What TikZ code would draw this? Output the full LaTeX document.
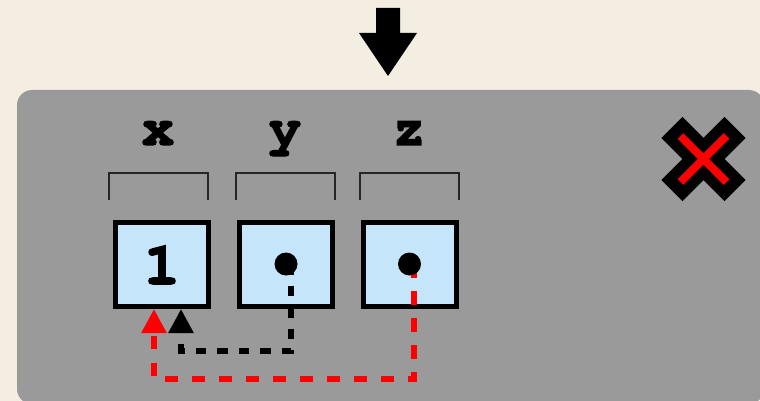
\documentclass[tikz,border=0pt]{standalone}
\usepackage{fontspec}
\newfontfamily\monob[RawFeature={embolden=2.5}]{texgyrecursor-bold.otf}
\usetikzlibrary{arrows.meta,calc}
\definecolor{bgbeige}{RGB}{243,237,226}
\definecolor{panelgray}{RGB}{154,154,154}
\definecolor{cellblue}{RGB}{197,229,251}
\begin{document}
\begin{tikzpicture}[x=1pt,y=-1pt,
  cell/.style={draw=black,line width=5pt,fill=cellblue,minimum width=93pt,minimum height=84pt,inner sep=0pt,outer sep=2.5pt},
  varlabel/.style={font=\monob\fontsize{54}{54}\selectfont,inner sep=0pt,anchor=base},
  valuelabel/.style={font=\monob\fontsize{60}{60}\selectfont,inner sep=0pt,anchor=base},
  bracket/.style={draw=black!85,line width=1.2pt},
  dotnode/.style={circle,fill=black,minimum size=23pt,inner sep=0pt},
  refline/.style={line width=5.5pt,-{Triangle[width=24pt,length=24pt]}}]
\useasboundingbox (0,0) rectangle (760,401);
\fill[bgbeige] (0,0) rectangle (760,401);
\fill[panelgray,rounded corners=15pt] (17,90) rectangle (764,404);
% top arrow
\fill[black] (376,8) -- (400,8) -- (400,33) -- (417,33) -- (388,76) -- (359,33) -- (376,33) -- cycle;
% labels
\node[varlabel] (lx) at (158,145) {x};
\node[varlabel] (ly) at (285,145) {y};
\node[varlabel] (lz) at (409,145) {z};
% brackets
\draw[bracket] (109,200) -- (109,173) -- (208,173) -- (208,200);
\draw[bracket] (236,200) -- (236,173) -- (335,173) -- (335,200);
\draw[bracket] (360,200) -- (360,173) -- (459,173) -- (459,200);
% cells
\node[cell] (bx) at (162,264.5) {};
\node[cell] (by) at (286,264.5) {};
\node[cell] (bz) at (409.5,264.5) {};
\node[valuelabel] (one) at (162,284) {1};
% references
\coordinate (dy) at (286,264);
\coordinate (dz) at (409.5,264);
\draw[refline,black,dash pattern=on 10.5pt off 11pt] ($(dy)+(5,0)$) -- ++(0,87) -| ($(bx.south)+(19,0)$);
\draw[refline,red,dash pattern=on 13.5pt off 13.5pt] ($(dz)+(4.5,0)$) -- ++(0,115) -| ($(bx.south)+(-8,0)$);
\node[dotnode] at (dy) {};
\node[dotnode] at (dz) {};
% X mark
\draw[black,line width=30pt,line cap=rect] (682.5,138) -- (724.5,180) (724.5,138) -- (682.5,180);
\draw[red,line width=8pt] (680.5,136) -- (726.5,182) (726.5,136) -- (680.5,182);
\end{tikzpicture}
\end{document}
